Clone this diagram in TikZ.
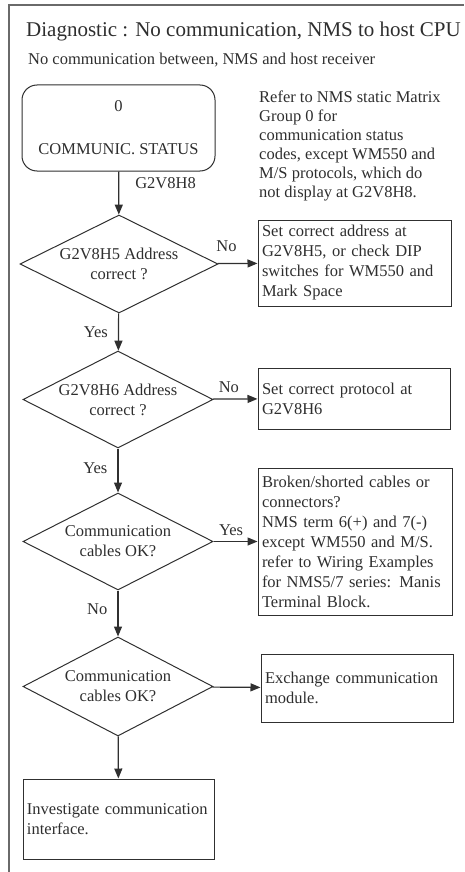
\documentclass[tikz,border=0pt]{standalone}
\usepackage{fontspec}
\setmainfont{Liberation Serif}
\usepackage{tikz}
\usetikzlibrary{arrows.meta,shapes.geometric}
\definecolor{inkgray}{HTML}{2E2E2E}
\definecolor{linegray}{HTML}{303030}
\definecolor{framegray}{HTML}{6A6A6A}
\newcommand{\flowfont}{\fontsize{16.5}{20}\selectfont}
\tikzset{every node/.append style={text=inkgray,font=\flowfont}}
\tikzset{
  startbox/.style={draw=linegray,line width=1pt,rounded corners=15pt,align=center,minimum width=193pt,minimum height=86pt,inner sep=0pt},
  decision/.style={draw=linegray,line width=1pt,diamond,aspect=2,align=center,inner sep=0pt,minimum width=190pt,minimum height=97pt},
  actionbox/.style={draw=linegray,line width=1pt,align=left,inner sep=4pt},
  flow/.style={draw=linegray,line width=1.2pt,-{Triangle[length=10pt,width=8pt]}},
  lab/.style={inner sep=0pt}
}

\begin{document}
\begin{tikzpicture}[x=1pt,y=-1pt]
\useasboundingbox (0,0) rectangle (464,872);
\draw[framegray,line width=1.6pt] (9,872)--(9,5)--(464,5);
\node[anchor=base west,inner sep=0pt,font=\fontsize{21}{25}\selectfont] (title) at (26,37) {Diagnostic : No communication, NMS to host CPU};
\node[anchor=base west,inner sep=0pt] (sub) at (28,65) {No communication between, NMS and host receiver};
\node[startbox] (st) at (118.5,128) {0\\[23pt]COMMUNIC. STATUS};
\node[anchor=north west,align=left,inner sep=0pt,font=\fontsize{16.5}{19}\selectfont] (note) at (259,90.5) {Refer to NMS static Matrix\\Group 0 for\\communication status\\codes, except WM550 and\\M/S protocols, which do\\not display at G2V8H8.};
\node[decision,minimum width=198pt,minimum height=98pt] (d1) at (119,264) {G2V8H5 Address\\correct ?};
\node[decision] (d2) at (118,399.5) {G2V8H6 Address\\correct ?};
\node[decision] (d3) at (118,541.5) {Communication\\cables OK?};
\node[decision,minimum height=99pt] (d4) at (118,686.5) {Communication\\cables OK?};
\node[actionbox,text width=185pt,minimum height=86pt] (b1) at (354.5,263) {Set correct address at\\G2V8H5, or check DIP\\switches for WM550 and\\Mark Space};
\node[actionbox,text width=184pt,minimum height=61pt] (b2) at (354,398.5) {Set correct protocol at\\G2V8H6};
\node[actionbox,text width=186pt,minimum height=147pt] (b3) at (355,541.5) {Broken/shorted cables or\\connectors?\\NMS term 6(+) and 7(-)\\except WM550 and M/S.\\refer to Wiring Examples\\for NMS5/7 series: Manis\\Terminal Block.};
\node[actionbox,text width=184pt,minimum height=68pt] (b4) at (357,688) {Exchange communication\\module.};
\node[actionbox,text width=183pt,minimum height=80pt] (b5) at (118.5,819) {Investigate communication\\interface.};
\draw[flow] (st) -- node[lab,anchor=base west,pos=.39,xshift=16pt] {G2V8H8} (d1);
\draw[flow] (d1) -- node[lab,anchor=base,pos=.22,yshift=12pt] {No} (b1);
\draw[flow] (d1) -- node[lab,anchor=base east,pos=.66,xshift=-10pt] {Yes} (d2);
\draw[flow] (d2) -- node[lab,anchor=base,pos=.36,yshift=7pt] {No} (b2);
\draw[flow] (d2) -- node[lab,anchor=base east,pos=.56,xshift=-10pt] {Yes} (d3);
\draw[flow] (d3) -- node[lab,anchor=base,pos=.4,yshift=6pt] {Yes} (b3);
\draw[flow] (d3) -- node[lab,anchor=base east,pos=.53,xshift=-10pt] {No} (d4);
\draw[flow] (d4) -- (b4);
\draw[flow] (d4) -- (b5);
\end{tikzpicture}
\end{document}
